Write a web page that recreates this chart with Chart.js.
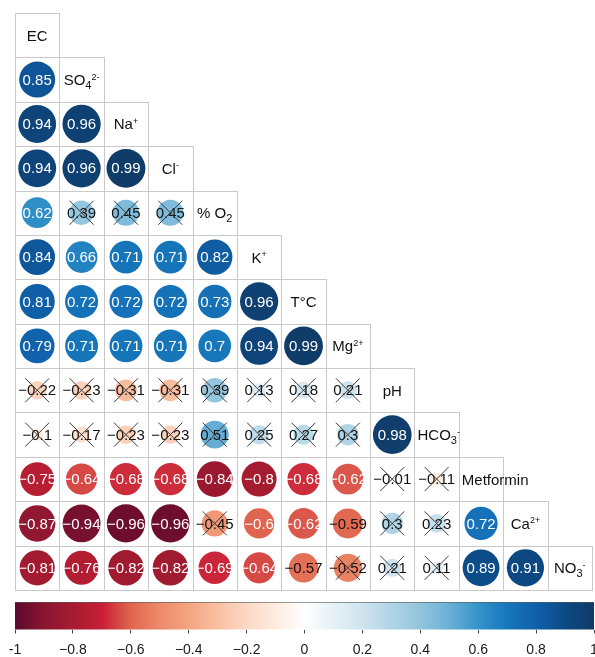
<!DOCTYPE html>
<html>
<head>
<meta charset="utf-8">
<script src="https://cdn.jsdelivr.net/npm/chart.js@4.4.0/dist/chart.umd.min.js"></script>
<style>
  html, body { margin: 0; padding: 0; background: #fff; }
  #wrap { position: relative; width: 595px; height: 657px; }
  #corr { position: absolute; left: 0; top: 0; }
  #bar { position: absolute; left: 0; top: 595px; }
</style>
</head>
<body>
<div id="wrap">
  <canvas id="corr" width="595" height="595"></canvas>
  <canvas id="bar" width="595" height="62"></canvas>
</div>
<script>
// variable names, _{..} = subscript, ^{..} = superscript
const vars = ['EC', 'SO_{4}^{2-}', 'Na^{+}', 'Cl^{-}', '% O_{2}', 'K^{+}', 'T°C',
  'Mg^{2+}', 'pH', 'HCO_{3}^{-}', 'Metformin', 'Ca^{2+}', 'NO_{3}^{-}'];

// lower triangle, row i holds r(vars[i+1], vars[0..i])
const corrRows = [
  [0.85],
  [0.94, 0.96],
  [0.94, 0.96, 0.99],
  [0.62, 0.39, 0.45, 0.45],
  [0.84, 0.66, 0.71, 0.71, 0.82],
  [0.81, 0.72, 0.72, 0.72, 0.73, 0.96],
  [0.79, 0.71, 0.71, 0.71, 0.7, 0.94, 0.99],
  [-0.22, -0.23, -0.31, -0.31, 0.39, 0.13, 0.18, 0.21],
  [-0.1, -0.17, -0.23, -0.23, 0.51, 0.25, 0.27, 0.3, 0.98],
  [-0.75, -0.64, -0.68, -0.68, -0.84, -0.8, -0.68, -0.62, -0.01, -0.11],
  [-0.87, -0.94, -0.96, -0.96, -0.45, -0.6, -0.62, -0.59, 0.3, 0.23, 0.72],
  [-0.81, -0.76, -0.82, -0.82, -0.69, -0.64, -0.57, -0.52, 0.21, 0.11, 0.89, 0.91]
];

// non significant pairs [row var, col var]
const notSig = [
  [4, 1], [4, 2], [4, 3],
  [8, 0], [8, 1], [8, 2], [8, 3], [8, 4], [8, 5], [8, 6], [8, 7],
  [9, 0], [9, 1], [9, 2], [9, 3], [9, 4], [9, 5], [9, 6], [9, 7],
  [10, 8], [10, 9],
  [11, 4], [11, 8], [11, 9],
  [12, 7], [12, 8], [12, 9]
];

// red-white-blue ramp, one stop every 0.1 from -1 to 1
const palette = [
  '#5a0a2e', '#8a1530', '#a51c30', '#c81e35', '#e06550', '#ec8a68', '#f4a582',
  '#f8c0a2', '#fcd8c4', '#fdece0', '#ffffff',
  '#e6f0f6', '#cfe4ef', '#b0d4e6', '#92c5de', '#6cb0d6', '#3494c9', '#1777bb',
  '#1060aa', '#0c4a85', '#113a66'
];
const barTicks = [-1, -0.8, -0.6, -0.4, -0.2, 0, 0.2, 0.4, 0.6, 0.8, 1];

const FONT = '"Liberation Sans", Arial, Helvetica, sans-serif';
const n = vars.length;

function hexRgb(h) {
  return [1, 3, 5].map(k => parseInt(h.slice(k, k + 2), 16));
}
function colorFor(v) {
  const t = (v + 1) / 2 * (palette.length - 1);
  const i = Math.min(palette.length - 2, Math.floor(t));
  const f = t - i;
  const a = hexRgb(palette[i]), b = hexRgb(palette[i + 1]);
  const c = a.map((x, k) => Math.round(x + (b[k] - x) * f));
  return `rgb(${c[0]},${c[1]},${c[2]})`;
}
function fmt(v) {
  return v < 0 ? '\u2212' + String(Math.abs(v)) : String(v);
}

const points = [];
corrRows.forEach((row, r) => {
  row.forEach((v, c) => {
    const i = r + 1;
    const ns = notSig.some(p => p[0] === i && p[1] === c);
    points.push({ x: c + 0.5, y: i + 0.5, v: v, ns: ns });
  });
});

function cellSize(chart) {
  const s = chart.scales.x;
  if (!s) return 0;
  const c = s.getPixelForValue(1) - s.getPixelForValue(0);
  return isFinite(c) && c > 0 ? c : 0;
}

// split "SO_{4}^{2-}" into plain / sub / sup pieces
function parseLabel(str) {
  const parts = [];
  const re = /([_^])\{([^}]*)\}|([^_^]+)/g;
  let m;
  while ((m = re.exec(str))) {
    if (m[3]) parts.push({ t: m[3], mode: '' });
    else parts.push({ t: m[2], mode: m[1] === '_' ? 'sub' : 'sup' });
  }
  return parts;
}
function partFont(mode) {
  return mode === '' ? `15px ${FONT}` : (mode === 'sub' ? `11px ${FONT}` : `9px ${FONT}`);
}
function drawLabel(ctx, str, left, cx, cy) {
  const parts = parseLabel(str);
  let w = 0;
  parts.forEach(p => { ctx.font = partFont(p.mode); p.w = ctx.measureText(p.t).width; w += p.w; });
  let x = Math.max(left + 3, cx - w / 2);
  const base = cy + 5.5;
  ctx.textAlign = 'left';
  ctx.textBaseline = 'alphabetic';
  ctx.fillStyle = '#111';
  parts.forEach(p => {
    ctx.font = partFont(p.mode);
    const dy = p.mode === 'sub' ? 4 : (p.mode === 'sup' ? -5.5 : 0);
    ctx.fillText(p.t, x, base + dy);
    x += p.w;
  });
}

const corrPlugin = {
  id: 'corrDecor',
  beforeDatasetsDraw(chart) {
    const { ctx, scales: { x, y } } = chart;
    ctx.save();
    ctx.strokeStyle = '#c9c9c9';
    ctx.lineWidth = 1;
    for (let i = 0; i < n; i++) {
      for (let j = 0; j <= i; j++) {
        const x0 = Math.round(x.getPixelForValue(j)) + 0.5;
        const x1 = Math.round(x.getPixelForValue(j + 1)) + 0.5;
        const y0 = Math.round(y.getPixelForValue(i)) + 0.5;
        const y1 = Math.round(y.getPixelForValue(i + 1)) + 0.5;
        ctx.strokeRect(x0, y0, x1 - x0, y1 - y0);
      }
    }
    ctx.restore();
  },
  afterDatasetsDraw(chart) {
    const { ctx, scales: { x, y } } = chart;
    ctx.save();
    // coefficients and crosses
    points.forEach(p => {
      const cx = x.getPixelForValue(p.x);
      const cy = y.getPixelForValue(p.y);
      ctx.font = `15px ${FONT}`;
      ctx.textAlign = 'center';
      ctx.textBaseline = 'middle';
      ctx.fillStyle = (!p.ns && Math.abs(p.v) >= 0.6) ? '#ffffff' : '#111111';
      ctx.fillText(fmt(p.v), cx, cy + 1);
      if (p.ns) {
        const h = 12;
        ctx.strokeStyle = '#3a3a3a';
        ctx.lineWidth = 1;
        ctx.beginPath();
        ctx.moveTo(cx - h, cy - h); ctx.lineTo(cx + h, cy + h);
        ctx.moveTo(cx + h, cy - h); ctx.lineTo(cx - h, cy + h);
        ctx.stroke();
      }
    });
    // variable names on the diagonal
    vars.forEach((name, i) => {
      const left = x.getPixelForValue(i);
      const cx = x.getPixelForValue(i + 0.5);
      const cy = y.getPixelForValue(i + 0.5);
      drawLabel(ctx, name, left, cx, cy);
    });
    ctx.restore();
  }
};

new Chart(document.getElementById('corr'), {
  type: 'scatter',
  data: {
    datasets: [{
      data: points,
      pointRadius: c => 0.44 * cellSize(c.chart) * Math.sqrt(Math.abs(c.raw ? c.raw.v : 0)),
      pointBackgroundColor: c => colorFor(c.raw ? c.raw.v : 0),
      pointBorderWidth: 0,
      pointBorderColor: 'rgba(0,0,0,0)'
    }]
  },
  options: {
    responsive: false,
    animation: false,
    events: [],
    layout: { padding: { left: 15, top: 13, right: 3, bottom: 5 } },
    plugins: { legend: { display: false }, tooltip: { enabled: false } },
    scales: {
      x: { type: 'linear', min: 0, max: n, display: false },
      y: { type: 'linear', min: 0, max: n, reverse: true, display: false }
    }
  },
  plugins: [corrPlugin]
});

// colour key
const gradientPlugin = {
  id: 'gradientBar',
  beforeDatasetsDraw(chart) {
    const { ctx, chartArea: a } = chart;
    const g = ctx.createLinearGradient(a.left, 0, a.right, 0);
    palette.forEach((c, k) => g.addColorStop(k / (palette.length - 1), c));
    ctx.save();
    ctx.fillStyle = g;
    ctx.fillRect(a.left, a.top, a.right - a.left, a.bottom - a.top);
    ctx.strokeStyle = 'rgba(90,90,90,0.6)';
    ctx.lineWidth = 1;
    ctx.beginPath();
    ctx.moveTo(a.left, a.top + 0.5);
    ctx.lineTo(a.right, a.top + 0.5);
    ctx.stroke();
    ctx.restore();
  }
};

new Chart(document.getElementById('bar'), {
  type: 'scatter',
  data: { datasets: [{ data: [] }] },
  options: {
    responsive: false,
    animation: false,
    events: [],
    layout: { padding: { left: 15, top: 7, right: 1, bottom: 0 } },
    plugins: { legend: { display: false }, tooltip: { enabled: false } },
    scales: {
      x: {
        type: 'linear', min: -1, max: 1,
        afterBuildTicks: s => { s.ticks = barTicks.map(v => ({ value: v })); },
        afterFit: s => { s.paddingLeft = 0; s.paddingRight = 0; },
        ticks: {
          padding: 8,
          maxRotation: 0,
          autoSkip: false,
          color: '#1a1a1a',
          font: { family: FONT, size: 14 },
          callback: v => v === -1 ? '-1' : fmt(Math.round(v * 10) / 10)
        },
        grid: { drawOnChartArea: false, drawTicks: true, tickLength: 4, color: '#444' },
        border: { display: false }
      },
      y: { display: false, min: 0, max: 1 }
    }
  },
  plugins: [gradientPlugin]
});
</script>
</body>
</html>
